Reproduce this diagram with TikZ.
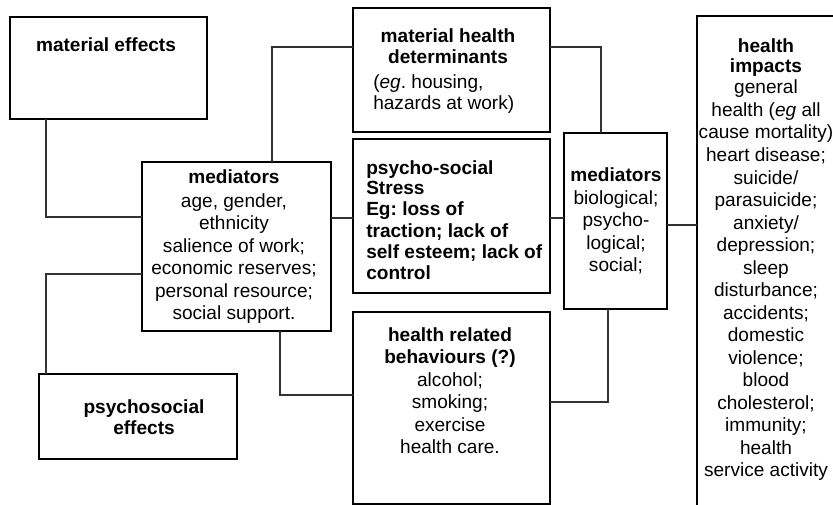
\documentclass[tikz,border=0pt]{standalone}
\usepackage{fontspec}
\setmainfont{Liberation Sans}
\usetikzlibrary{positioning,calc}
\frenchspacing

\begin{document}
\begin{tikzpicture}[x=0.75pt, y=-0.75pt,
    box/.style={draw, line width=0.8pt, inner sep=0pt, outer sep=0pt},
    wire/.style={draw=black!80, line width=0.8pt},
    txt/.style={inner sep=0pt, align=center, font=\fontsize{14.3}{16.9}\selectfont},
    head/.style={txt, font=\fontsize{14.3}{16.9}\selectfont\bfseries}]
      \useasboundingbox[fill=white] (0,0) rectangle (833,505);
      \clip (0,0) rectangle (833,505);
      % boxes
      \node[box, minimum width=147.75pt, minimum height=76.5pt] (mateff) at (108.5,68) {};
      \node[box, minimum width=147.75pt, minimum height=93pt] (mathd) at (451.5,70) {};
      \node[box, minimum width=147.75pt, minimum height=115.5pt] (stress) at (451.5,216) {};
      \node[box, minimum width=147.75pt, minimum height=144pt] (behav) at (451.5,408) {};
      \node[box, minimum width=141.75pt, minimum height=126.75pt] (medL) at (236.5,246.5) {};
      \node[box, minimum width=148.5pt, minimum height=63.75pt] (psyeff) at (138,416.5) {};
      \node[box, minimum width=77.25pt, minimum height=132pt] (medR) at (615.5,221) {};
      \node[box, minimum width=107.25pt, minimum height=374.25pt] (impacts) at (768.5,265.5) {};
      % texts (base = last line)
      \node[head, anchor=base] (mateffT) at (106,52) {material effects};
      \node[head, anchor=base] (mathdT) at (448,64) {material health\\[-0.5pt]determinants};
      \node[txt, anchor=base west, align=left] (mathdEg) at (373,110) {(\textit{eg}. housing,\\[-0.5pt]hazards at work)};
      \node[head, anchor=base west, align=left, font=\fontsize{14.3}{16}\selectfont\bfseries] (stressT) at (366,280)
            {psycho-social\\[-1pt]Stress\\Eg: loss of\\traction; lack of\\self esteem; lack of\\control};
      \node[txt, anchor=base] (medLT) at (234,320)
            {\textbf{mediators}\\[1pt]age, gender,\\ethnicity\\salience of work;\\economic reserves;\\personal resource;\\social support.};
      \node[head, anchor=base] (psyeffT) at (144,435) {psychosocial\\[-0.5pt]effects};
      \node[txt, anchor=base] (behavT) at (450,454)
            {\textbf{health related}\\\textbf{behaviours (?)}\\alcohol;\\smoking;\\exercise\\health care.};
      \node[txt, anchor=base] (medRT) at (616,272)
            {\textbf{mediators}\\biological;\\psycho-\\logical;\\social;};
      \node[txt, anchor=base] (impactsT) at (766,477)
            {\textbf{health}\\[-2pt]\textbf{impacts}\\[-1pt]general\\health (\textit{eg} all\\cause mortality)\\heart disease;\\suicide/\\parasuicide;\\anxiety/\\depression;\\sleep\\disturbance;\\accidents;\\domestic\\violence;\\blood\\cholesterol;\\immunity;\\health\\service activity};
      % links
      \draw[wire] ($(mateff.south west)+(36,0)$) |- ($(medL.north west)+(0,55)$);
      \draw[wire] ($(medL.north west)+(0,112)$) -| ($(psyeff.north west)+(7,0)$);
      \draw[wire] ($(medL.north west)+(130,0)$) |- ($(mathd.north west)+(0,39)$);
      \draw[wire] ($(medL.north east)+(0,56)$) -- ($(stress.north west)+(0,79)$);
      \draw[wire] ($(medL.south west)+(138,0)$) |- ($(behav.north west)+(0,83)$);
      \draw[wire] ($(stress.north east)+(0,79)$) -- ($(medR.north west)+(0,85)$);
      \draw[wire] ($(mathd.north east)+(0,39)$) -| ($(medR.north west)+(37,0)$);
      \draw[wire] ($(medR.south west)+(44,0)$) |- ($(behav.north east)+(0,90)$);
      \draw[wire] ($(medR.north east)+(0,92)$) -- ($(impacts.north west)+(0,209)$);
\end{tikzpicture}
\end{document}
